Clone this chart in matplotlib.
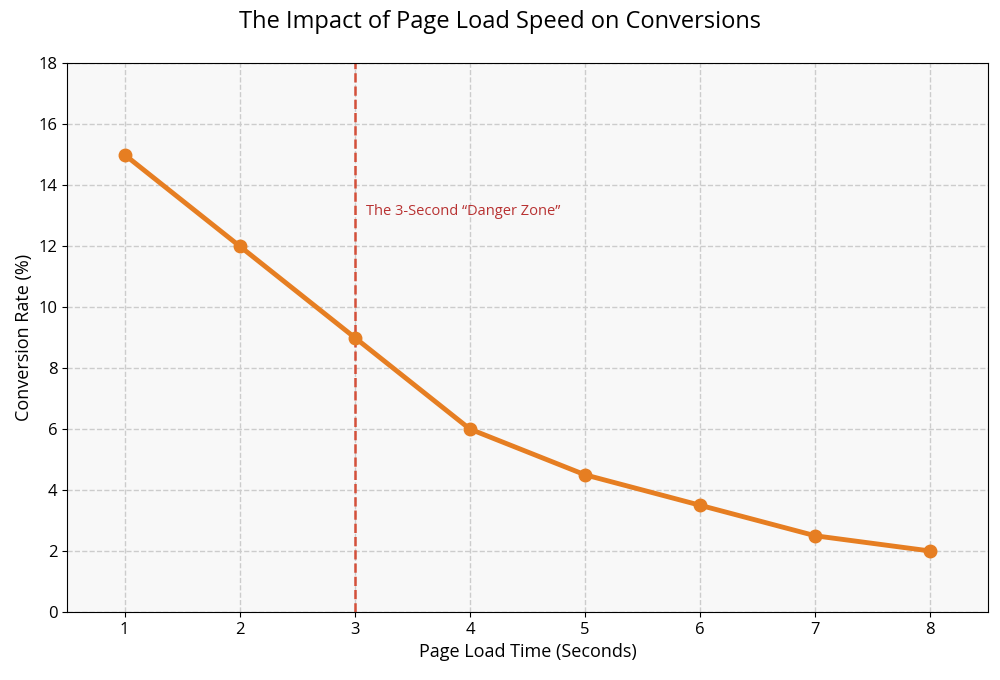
import matplotlib
matplotlib.use("Agg")
import matplotlib.pyplot as plt

plt.rcParams['font.family'] = ['Open Sans', 'DejaVu Sans']

load_time = [1, 2, 3, 4, 5, 6, 7, 8]
conversion = [15, 12, 9, 6, 4.5, 3.5, 2.5, 2]
danger_x = 3
danger_label = 'The 3-Second \u201cDanger Zone\u201d'

fig = plt.figure(figsize=(10, 6.8), dpi=100)
ax = fig.add_axes([0.067, 0.1, 0.921, 0.807])
ax.set_facecolor('#f8f8f8')

ax.plot(load_time, conversion, color='#e67e22', lw=3.5, marker='o', ms=9, zorder=3)
ax.axvline(danger_x, color='#d4503a', ls='--', lw=1.8, zorder=2)
ax.text(danger_x + 0.1, 12.9, danger_label, color='#b83232', fontsize=10.5, va='bottom')

ax.set_xlim(0.5, 8.5)
ax.set_ylim(0, 18)
ax.set_xticks(load_time)
ax.set_yticks(range(0, 19, 2))
ax.grid(True, ls='--', color='#cccccc', lw=1)
ax.set_axisbelow(True)
ax.tick_params(labelsize=12)

ax.set_xlabel('Page Load Time (Seconds)', fontsize=13)
ax.set_ylabel('Conversion Rate (%)', fontsize=13)
fig.suptitle('The Impact of Page Load Speed on Conversions', fontsize=17, y=0.985)

fig.savefig('out.png', dpi=100)
